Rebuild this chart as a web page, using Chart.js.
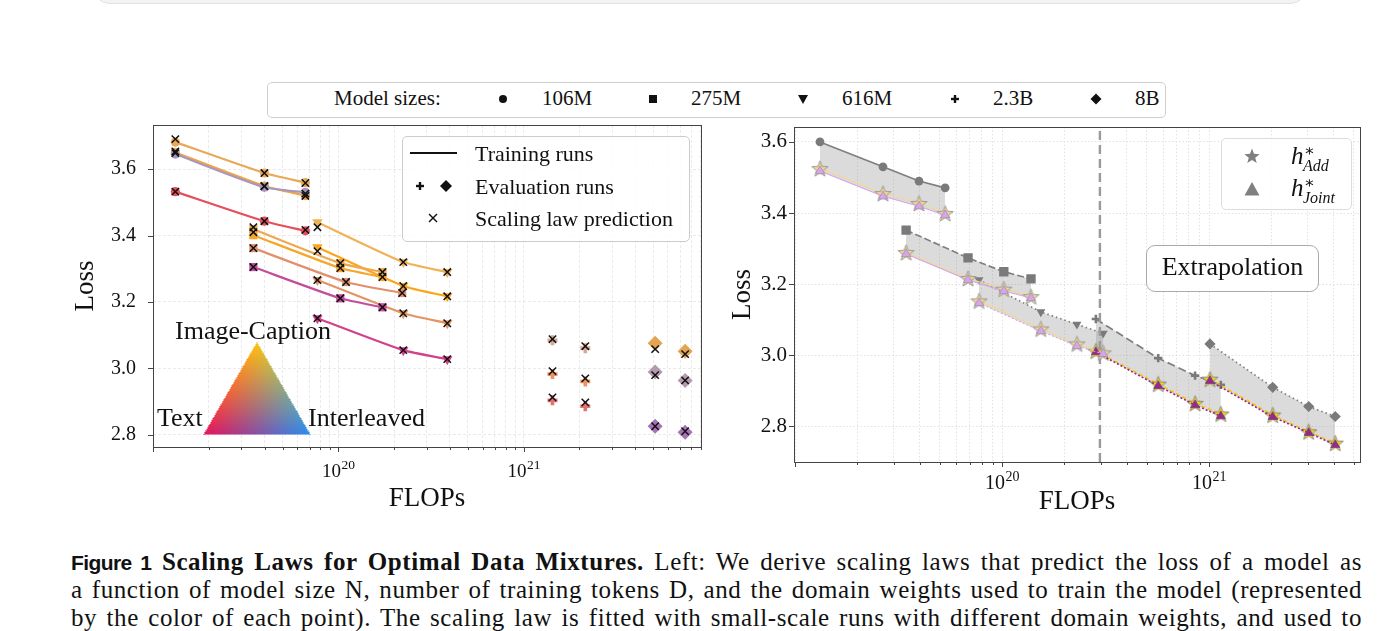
<!DOCTYPE html>
<html>
<head>
<meta charset="utf-8">
<script src="https://cdn.jsdelivr.net/npm/chart.js@4.4.1/dist/chart.umd.min.js"></script>
<style>
html,body{margin:0;padding:0;background:#fff;}
body{width:1400px;height:631px;overflow:hidden;position:relative;font-family:"Liberation Serif","DejaVu Serif",serif;color:#111;}
.a{position:absolute;}
.t{position:absolute;white-space:nowrap;line-height:1;}
.cap{position:absolute;left:71px;font-family:"Liberation Serif","DejaVu Serif",serif;font-size:25px;line-height:28px;white-space:nowrap;letter-spacing:0.6px;}
#w1{position:absolute;left:60px;top:110px;width:650px;height:410px;}
#w2{position:absolute;left:720px;top:110px;width:650px;height:410px;}
.ov{z-index:5;}
</style>
</head>
<body>
<div class="a" style="left:93px;top:-30px;width:1212px;height:32px;background:#f3f3f3;border:1px solid #e2e2e2;border-radius:26px;"></div>

<div id="w1"><canvas id="c1"></canvas></div>
<div id="w2"><canvas id="c2"></canvas></div>

<!-- top legend -->
<div class="a ov" style="left:267px;top:82px;width:897px;height:34px;border:1px solid #cfcfcf;border-radius:5px;background:#fff;"></div>
<div class="t ov" style="left:334px;top:88px;font-size:21px;">Model sizes:</div>
<svg class="a ov" style="left:497px;top:93px" width="12" height="12"><circle cx="6" cy="6" r="4" fill="#111"/></svg>
<div class="t ov" style="left:542px;top:88px;font-size:21px;">106M</div>
<svg class="a ov" style="left:647px;top:93px" width="12" height="12"><rect x="2" y="2" width="8" height="8" fill="#111"/></svg>
<div class="t ov" style="left:691px;top:88px;font-size:21px;">275M</div>
<svg class="a ov" style="left:797px;top:93px" width="12" height="12"><polygon points="1,2 11,2 6,11" fill="#111"/></svg>
<div class="t ov" style="left:842px;top:88px;font-size:21px;">616M</div>
<svg class="a ov" style="left:949px;top:93px" width="12" height="12"><rect x="4.8" y="2" width="2.4" height="8" fill="#111"/><rect x="2" y="4.8" width="8" height="2.4" fill="#111"/></svg>
<div class="t ov" style="left:993px;top:88px;font-size:21px;">2.3B</div>
<svg class="a ov" style="left:1090px;top:93px" width="12" height="12"><polygon points="6,0.5 11.5,6 6,11.5 0.5,6" fill="#111"/></svg>
<div class="t ov" style="left:1135px;top:88px;font-size:21px;">8B</div>

<!-- left legend -->
<div class="a ov" style="left:402px;top:136px;width:286px;height:104px;border:1px solid #cccccc;border-radius:5px;background:rgba(255,255,255,0.85);"></div>
<svg class="a ov" style="left:409px;top:150px" width="50" height="6"><line x1="1" y1="3" x2="48" y2="3" stroke="#111" stroke-width="2"/></svg>
<div class="t ov" style="left:475px;top:143px;font-size:22px;">Training runs</div>
<svg class="a ov" style="left:414px;top:180px" width="12" height="12"><rect x="4.8" y="2" width="2.4" height="8" fill="#111"/><rect x="2" y="4.8" width="8" height="2.4" fill="#111"/></svg>
<svg class="a ov" style="left:439px;top:179px" width="14" height="14"><polygon points="7,1 13,7 7,13 1,7" fill="#111"/></svg>
<div class="t ov" style="left:475px;top:176px;font-size:22px;">Evaluation runs</div>
<svg class="a ov" style="left:427px;top:212px" width="12" height="12"><line x1="2" y1="2" x2="10" y2="10" stroke="#111" stroke-width="1.4"/><line x1="10" y1="2" x2="2" y2="10" stroke="#111" stroke-width="1.4"/></svg>
<div class="t ov" style="left:475px;top:208px;font-size:22px;">Scaling law prediction</div>

<!-- domain-weight triangle -->
<canvas id="tri" class="a ov" style="left:200px;top:338px" width="116" height="100"></canvas>
<div class="t ov" style="left:175px;top:318px;font-size:26px;">Image-Caption</div>
<div class="t ov" style="left:157px;top:405px;font-size:26px;">Text</div>
<div class="t ov" style="left:308px;top:405px;font-size:26px;">Interleaved</div>

<!-- right legend -->
<div class="a ov" style="left:1221px;top:138px;width:129px;height:70px;border:1px solid #dcdcdc;border-radius:5px;background:rgba(255,255,255,0.85);"></div>
<svg class="a ov" style="left:1243px;top:147px" width="18" height="18"><polygon id="lgstar" fill="#808080"/></svg>
<svg class="a ov" style="left:1243px;top:180px" width="18" height="18"><polygon points="9,2 16.5,15.5 1.5,15.5" fill="#808080"/></svg>
<div class="t ov" style="left:1291px;top:143px;font-size:25px;font-style:italic;">h</div>
<div class="t ov" style="left:1304px;top:143px;font-size:16px;">∗</div>
<div class="t ov" style="left:1303px;top:158px;font-size:16px;font-style:italic;">Add</div>
<div class="t ov" style="left:1291px;top:175px;font-size:25px;font-style:italic;">h</div>
<div class="t ov" style="left:1304px;top:175px;font-size:16px;">∗</div>
<div class="t ov" style="left:1303px;top:190px;font-size:16px;font-style:italic;">Joint</div>

<!-- extrapolation label -->
<div class="a ov" style="left:1146px;top:245px;width:171px;height:45px;border:1px solid #aaaaaa;border-radius:9px;background:rgba(255,255,255,0.9);"></div>
<div class="t ov" style="left:1146px;top:254px;width:173px;text-align:center;font-size:26px;">Extrapolation</div>

<!-- caption -->
<div class="cap" style="top:548px"><span style="font-family:'Liberation Sans Narrow','Liberation Sans',sans-serif;font-weight:bold;font-size:21px;letter-spacing:-0.6px;">Figure 1</span> <b>Scaling Laws for Optimal Data Mixtures.</b> Left: We derive scaling laws that predict the loss of a model as</div>
<div class="cap" style="top:576px">a function of model size N, number of training tokens D, and the domain weights used to train the model (represented</div>
<div class="cap" style="top:604px">by the color of each point). The scaling law is fitted with small-scale runs with different domain weights, and used to</div>

<script>
// ---------------- LEFT PANEL DATA ----------------
const FLOPS_L_106M = [1.32e19, 3.99e19, 6.64e19];
const L106_ORANGE  = [3.681, 3.588, 3.559];
const P106_ORANGE  = [3.690, 3.588, 3.558];
const L106_PURPLE  = [3.645, 3.545, 3.530];
const P106_PURPLE  = [3.648, 3.549, 3.526];
const L106_ORANGE2 = [3.650, 3.549, 3.520];
const P106_ORANGE2 = [3.653, 3.548, 3.519];
const L106_RED     = [3.532, 3.443, 3.414];
const P106_RED     = [3.532, 3.443, 3.417];

const FLOPS_L_275M        = [3.48e19, 1.025e20, 1.73e20];
const FLOPS_L_275M_SALMON = [3.48e19, 1.10e20, 2.21e20];
const L275_ORANGE  = [3.419, 3.317, 3.290];
const P275_ORANGE  = [3.425, 3.317, 3.290];
const L275_GOLD    = [3.401, 3.302, 3.275];
const P275_GOLD    = [3.410, 3.302, 3.275];
const L275_SALMON  = [3.362, 3.260, 3.227];
const P275_SALMON  = [3.362, 3.260, 3.227];
const L275_MAGENTA = [3.305, 3.211, 3.184];
const P275_MAGENTA = [3.305, 3.211, 3.184];

const FLOPS_L_616M = [7.71e19, 2.24e20, 3.87e20];
const L616_ORANGE  = [3.440, 3.320, 3.290];
const P616_ORANGE  = [3.425, 3.320, 3.290];
const L616_GOLD    = [3.365, 3.248, 3.217];
const P616_GOLD    = [3.353, 3.248, 3.217];
const L616_SALMON  = [3.266, 3.166, 3.136];
const P616_SALMON  = [3.266, 3.166, 3.136];
const L616_MAGENTA = [3.151, 3.055, 3.028];
const P616_MAGENTA = [3.151, 3.055, 3.028];

const FLOPS_L_23B = [1.43e21, 2.15e21];
const E23B_TAN    = [3.085, 3.061];
const P23B_TAN    = [3.088, 3.067];
const E23B_ORANGE = [2.983, 2.961];
const P23B_ORANGE = [2.992, 2.970];
const E23B_RED    = [2.904, 2.886];
const P23B_RED    = [2.913, 2.898];

const FLOPS_L_8B = [5.12e21, 7.43e21];
const E8B_ORANGE = [3.076, 3.052];
const P8B_ORANGE = [3.058, 3.043];
const E8B_MAUVE  = [2.989, 2.964];
const P8B_MAUVE  = [2.980, 2.964];
const E8B_PURPLE = [2.826, 2.808];
const P8B_PURPLE = [2.826, 2.811];

// ---------------- RIGHT PANEL DATA ----------------
const FLOPS_R_106M = [1.32e19, 2.66e19, 3.97e19, 5.31e19];
const R106_ACTUAL  = [3.600, 3.530, 3.490, 3.471];
const R106_ADD     = [3.525, 3.455, 3.427, 3.399];
const R106_JOINT   = [3.518, 3.447, 3.419, 3.394];
const FLOPS_R_275M = [3.44e19, 6.85e19, 1.02e20, 1.38e20];
const R275_ACTUAL  = [3.352, 3.274, 3.235, 3.215];
const R275_ADD     = [3.289, 3.216, 3.186, 3.165];
const R275_JOINT   = [3.285, 3.212, 3.181, 3.161];
const FLOPS_R_616M = [7.74e19, 1.54e20, 2.30e20, 3.08e20];
const R616_ACTUAL  = [3.212, 3.122, 3.087, 3.062];
const R616_ADD     = [3.153, 3.074, 3.032, 3.007];
const R616_JOINT   = [3.147, 3.068, 3.026, 3.004];
const FLOPS_R_23B  = [2.84e20, 5.68e20, 8.56e20, 1.14e21];
const R23B_ACTUAL  = [3.102, 2.992, 2.943, 2.917];
const R23B_ADD     = [3.012, 2.919, 2.865, 2.835];
const R23B_JOINT   = [3.009, 2.914, 2.860, 2.829];
const FLOPS_R_8B   = [1.01e21, 2.03e21, 3.03e21, 4.07e21];
const R8B_ACTUAL   = [3.032, 2.910, 2.856, 2.828];
const R8B_ADD      = [2.933, 2.832, 2.785, 2.753];
const R8B_JOINT    = [2.928, 2.827, 2.782, 2.748];
const EXTRAP_FLOPS = 2.97e20;

// ---------------- AXES / TICKS ----------------
const Y_TICKS = [2.8, 3.0, 3.2, 3.4, 3.6];
const LABELED_DECADES = [20, 21];
const LEFT_X_RANGE  = [1.0e19, 9.05e21];
const LEFT_Y_RANGE  = [2.7636, 3.7325];
const RIGHT_X_RANGE = [9.886e18, 5.36e21];
const RIGHT_Y_RANGE = [2.700, 3.642];

const SERIF = "'Liberation Serif','DejaVu Serif',serif";

function logTicks(min, max) {
  const out = [];
  for (let e = Math.floor(Math.log10(min)); e <= Math.ceil(Math.log10(max)); e++) {
    for (let m = 1; m <= 9; m++) {
      const v = m * Math.pow(10, e);
      if (v >= min * 0.9999 && v <= max * 1.0001) out.push({value: v, major: m === 1});
    }
  }
  return out;
}
function labeledExp(v) {
  const e = Math.log10(v), r = Math.round(e);
  return (Math.abs(e - r) < 1e-6 && LABELED_DECADES.includes(r)) ? r : null;
}
const pts = (xs, ys) => xs.map((x, i) => ({x, y: ys[i]}));

const framePlugin = {
  id: 'frame',
  afterDraw(chart, _a, o) {
    const {ctx, chartArea: a, scales: {x, y}} = chart;
    ctx.save();
    ctx.strokeStyle = o.color; ctx.lineWidth = 1;
    ctx.strokeRect(Math.round(a.left) + 0.5, Math.round(a.top) + 0.5, Math.round(a.right - a.left), Math.round(a.bottom - a.top));
    ctx.beginPath();
    x.ticks.forEach(t => {
      const p = Math.round(x.getPixelForValue(t.value)) + 0.5;
      if (p < a.left - 1 || p > a.right + 1) return;
      const L = t.major ? o.major : o.minor;
      ctx.moveTo(p, a.bottom); ctx.lineTo(p, a.bottom + L);
    });
    y.ticks.forEach(t => {
      const p = Math.round(y.getPixelForValue(t.value)) + 0.5;
      ctx.moveTo(a.left, p); ctx.lineTo(a.left - o.major, p);
    });
    ctx.stroke();
    // decade tick labels: "10" with a raised exponent
    ctx.fillStyle = '#111';
    ctx.textBaseline = 'alphabetic'; ctx.textAlign = 'left';
    x.ticks.forEach(t => {
      const e = labeledExp(t.value);
      if (e === null) return;
      const px = x.getPixelForValue(t.value);
      ctx.font = o.size + 'px ' + SERIF;
      const w1 = ctx.measureText('10').width;
      ctx.font = o.sup + 'px ' + SERIF;
      const w2 = ctx.measureText(String(e)).width;
      const sx = px - (w1 + w2) / 2, base = a.bottom + o.base;
      ctx.font = o.size + 'px ' + SERIF;
      ctx.fillText('10', sx, base);
      ctx.font = o.sup + 'px ' + SERIF;
      ctx.fillText(String(e), sx + w1 + 0.5, base - o.raise);
    });
    ctx.restore();
  }
};

function axes(xr, yr, yw, xh, ySize, yPad, titleTopPad, titleBotPad, gridColor, dash) {
  return {
    x: {
      type: 'logarithmic', min: xr[0], max: xr[1],
      afterBuildTicks: s => { s.ticks = logTicks(xr[0], xr[1]); },
      afterFit: s => { s.height = xh; s.paddingLeft = 0; s.paddingRight = 0; },
      grid: {color: gridColor, lineWidth: 0.8, drawTicks: false},
      border: {display: false, dash: dash},
      ticks: {autoSkip: false, maxRotation: 0, padding: 0, callback: () => ''},
      title: {display: true, text: 'FLOPs', color: '#111', font: {family: SERIF, size: 27}, padding: {top: 0, bottom: titleBotPad}}
    },
    y: {
      type: 'linear', min: yr[0], max: yr[1],
      afterBuildTicks: s => { s.ticks = Y_TICKS.map(v => ({value: v})); },
      afterFit: s => { s.width = yw; s.paddingTop = 0; s.paddingBottom = 0; },
      grid: {color: gridColor, lineWidth: 0.8, drawTicks: false},
      border: {display: false, dash: dash},
      ticks: {padding: yPad, color: '#111', font: {family: SERIF, size: ySize}, callback: v => v.toFixed(1)},
      title: {display: true, text: 'Loss', color: '#111', font: {family: SERIF, size: 27}, padding: {top: titleTopPad, bottom: 0}}
    }
  };
}

// ---------------- LEFT CHART ----------------
const leftRuns = [
  [FLOPS_L_106M, L106_ORANGE,  P106_ORANGE,  '#eaa85a', 'circle'],
  [FLOPS_L_106M, L106_PURPLE,  P106_PURPLE,  '#a996bd', 'circle'],
  [FLOPS_L_106M, L106_ORANGE2, P106_ORANGE2, '#f0a640', 'circle'],
  [FLOPS_L_106M, L106_RED,     P106_RED,     '#e34f5c', 'circle'],
  [FLOPS_L_275M, L275_ORANGE,  P275_ORANGE,  '#eea850', 'rect'],
  [FLOPS_L_275M, L275_GOLD,    P275_GOLD,    '#f6a72a', 'rect'],
  [FLOPS_L_275M_SALMON, L275_SALMON, P275_SALMON, '#e0906d', 'rect'],
  [FLOPS_L_275M, L275_MAGENTA, P275_MAGENTA, '#c44d9b', 'rect'],
  [FLOPS_L_616M, L616_ORANGE,  P616_ORANGE,  '#efb257', 'triangle'],
  [FLOPS_L_616M, L616_GOLD,    P616_GOLD,    '#fba51a', 'triangle'],
  [FLOPS_L_616M, L616_SALMON,  P616_SALMON,  '#e49463', 'triangle'],
  [FLOPS_L_616M, L616_MAGENTA, P616_MAGENTA, '#d2418a', 'triangle']
];
const leftEvals = [
  [FLOPS_L_23B, E23B_TAN,    P23B_TAN,    '#d4a894', 'cross'],
  [FLOPS_L_23B, E23B_ORANGE, P23B_ORANGE, '#ec9264', 'cross'],
  [FLOPS_L_23B, E23B_RED,    P23B_RED,    '#e3716f', 'cross'],
  [FLOPS_L_8B,  E8B_ORANGE,  P8B_ORANGE,  '#e3a553', 'rectRot'],
  [FLOPS_L_8B,  E8B_MAUVE,   P8B_MAUVE,   '#b39aae', 'rectRot'],
  [FLOPS_L_8B,  E8B_PURPLE,  P8B_PURPLE,  '#a673b6', 'rectRot']
];
const leftDatasets = [];
leftRuns.forEach(([xs, ys, ps, col, st]) => {
  leftDatasets.push({
    data: pts(xs, ys), borderColor: col, borderWidth: 2.2, tension: 0.2, fill: false,
    pointStyle: st, pointRotation: st === 'triangle' ? 180 : 0,
    pointRadius: st === 'circle' ? 4.6 : (st === 'rect' ? 5.8 : 6),
    pointBackgroundColor: col, pointBorderColor: col, pointBorderWidth: 0, order: 2
  });
  leftDatasets.push({
    data: pts(xs, ps), showLine: false, pointStyle: 'crossRot', pointRadius: 5.2,
    pointBorderColor: '#111', pointBorderWidth: 1.5, order: 1
  });
});
leftEvals.forEach(([xs, ys, ps, col, st]) => {
  leftDatasets.push({
    data: pts(xs, ys), showLine: false, pointStyle: st,
    pointRadius: st === 'cross' ? 5 : 7.5, pointBorderWidth: st === 'cross' ? 3.6 : 0,
    pointBackgroundColor: col, pointBorderColor: col, order: 2
  });
  leftDatasets.push({
    data: pts(xs, ps), showLine: false, pointStyle: 'crossRot', pointRadius: 5.2,
    pointBorderColor: '#111', pointBorderWidth: 1.5, order: 1
  });
});

new Chart(document.getElementById('c1'), {
  type: 'line',
  data: {datasets: leftDatasets},
  options: {
    responsive: true, maintainAspectRatio: false, animation: false, events: [],
    layout: {padding: {top: 15, right: 9, left: 0, bottom: 0}},
    plugins: {legend: {display: false}, tooltip: {enabled: false},
      frame: {color: '#444', major: 5, minor: 3, size: 19, sup: 13.5, base: 30, raise: 8}},
    scales: axes(LEFT_X_RANGE, LEFT_Y_RANGE, 93, 73, 20, 17, 9.4, 4.4, '#e4e4e4', [3, 2])
  },
  plugins: [framePlugin]
});

// ---------------- RIGHT CHART ----------------
function starCanvas(r, fill, stroke) {
  const s = Math.ceil(2 * r + 4), c = document.createElement('canvas');
  c.width = c.height = s;
  const g = c.getContext('2d');
  g.translate(s / 2, s / 2 + r * 0.08);
  g.beginPath();
  for (let i = 0; i < 10; i++) {
    const rad = i % 2 ? r * 0.42 : r, ang = -Math.PI / 2 + i * Math.PI / 5;
    g.lineTo(rad * Math.cos(ang), rad * Math.sin(ang));
  }
  g.closePath(); g.fillStyle = fill; g.fill();
  g.strokeStyle = stroke; g.lineWidth = 1; g.stroke();
  return c;
}
const STAR_LIGHT = starCanvas(8.5, 'rgba(242,214,130,0.95)', '#9a9a9a');
const STAR_BRIGHT = starCanvas(8.5, '#f6d600', '#8a8a8a');

const rightGroups = [
  [FLOPS_R_106M, R106_ACTUAL, R106_ADD, R106_JOINT, 'circle',   4.4, 0,   [],     'light'],
  [FLOPS_R_275M, R275_ACTUAL, R275_ADD, R275_JOINT, 'rect',     5.2, 2,   [7, 3], 'light'],
  [FLOPS_R_616M, R616_ACTUAL, R616_ADD, R616_JOINT, 'triangle', 5.2, 0,   [1.5, 3], 'light'],
  [FLOPS_R_23B,  R23B_ACTUAL, R23B_ADD, R23B_JOINT, 'cross',    4.2, 2.6, [8, 4], 'bright'],
  [FLOPS_R_8B,   R8B_ACTUAL,  R8B_ADD,  R8B_JOINT,  'rectRot',  5.6, 0,   [1.5, 3], 'bright']
];
const rightDatasets = [];
rightGroups.forEach(([xs, act, add, joint, st, rad, bw, dash, kind]) => {
  const bright = kind === 'bright';
  rightDatasets.push({
    data: pts(xs, act), borderColor: '#7f7f7f', borderWidth: 1.7, borderDash: dash,
    pointStyle: st, pointRotation: st === 'triangle' ? 180 : 0, pointRadius: rad, pointBorderWidth: bw,
    pointBackgroundColor: '#7a7a7a', pointBorderColor: '#7a7a7a',
    fill: '+2', backgroundColor: 'rgba(135,135,135,0.3)', order: 5
  });
  rightDatasets.push({
    data: pts(xs, add), borderColor: bright ? '#f2c800' : '#f2d894', borderWidth: bright ? 1.6 : 1.2,
    borderDash: bright ? [4, 3] : [], fill: false,
    pointStyle: bright ? STAR_BRIGHT : STAR_LIGHT, order: 4
  });
  rightDatasets.push({
    data: pts(xs, joint), borderColor: bright ? '#9c2290' : '#d4a4ee', borderWidth: bright ? 1.6 : 1.1,
    borderDash: bright ? [2, 2] : (st === 'triangle' ? [2, 2] : []), fill: false,
    pointStyle: 'triangle', pointRadius: 5.2, pointBorderWidth: 0.8,
    pointBackgroundColor: bright ? '#9e2590' : '#d6a6ea', pointBorderColor: bright ? '#6d4a70' : '#a68fb0', order: 3
  });
});
rightDatasets.push({
  data: [{x: EXTRAP_FLOPS, y: RIGHT_Y_RANGE[0]}, {x: EXTRAP_FLOPS, y: RIGHT_Y_RANGE[1]}],
  borderColor: '#9a9a9a', borderWidth: 2.4, borderDash: [9, 5], pointRadius: 0, fill: false, order: 4.5
});

new Chart(document.getElementById('c2'), {
  type: 'line',
  data: {datasets: rightDatasets},
  options: {
    responsive: true, maintainAspectRatio: false, animation: false, events: [],
    layout: {padding: {top: 17, right: 10, left: 0, bottom: 0}},
    plugins: {legend: {display: false}, tooltip: {enabled: false},
      frame: {color: '#444', major: 5, minor: 3, size: 20, sup: 14, base: 27, raise: 8}},
    scales: axes(RIGHT_X_RANGE, RIGHT_Y_RANGE, 74, 58, 21, 7, 6.4, 1.4, '#dadada', [1.5, 2])
  },
  plugins: [framePlugin]
});

// ---------------- DOMAIN-WEIGHT TRIANGLE (colour key) ----------------
(function () {
  const cv = document.getElementById('tri'), g = cv.getContext('2d');
  const W = cv.width, H = cv.height, img = g.createImageData(W, H);
  const A = [4.5, 96], B = [109.5, 96], C = [57, 5];
  const cA = [227, 22, 91], cB = [40, 140, 240], cC = [252, 192, 20];
  const det = (B[1] - C[1]) * (A[0] - C[0]) + (C[0] - B[0]) * (A[1] - C[1]);
  for (let y = 0; y < H; y++) for (let x = 0; x < W; x++) {
    const px = x + 0.5, py = y + 0.5;
    const l1 = ((B[1] - C[1]) * (px - C[0]) + (C[0] - B[0]) * (py - C[1])) / det;
    const l2 = ((C[1] - A[1]) * (px - C[0]) + (A[0] - C[0]) * (py - C[1])) / det;
    const l3 = 1 - l1 - l2;
    const m = Math.min(l1, l2, l3);
    if (m < -0.01) continue;
    const i = (y * W + x) * 4;
    for (let k = 0; k < 3; k++) img.data[i + k] = Math.round(l1 * cA[k] + l2 * cB[k] + l3 * cC[k]);
    img.data[i + 3] = m < 0 ? 140 : 255;
  }
  g.putImageData(img, 0, 0);
})();

// legend star shape
(function () {
  const p = [];
  for (let i = 0; i < 10; i++) {
    const r = i % 2 ? 3.4 : 8, a = -Math.PI / 2 + i * Math.PI / 5;
    p.push((9 + r * Math.cos(a)).toFixed(2) + ',' + (9.6 + r * Math.sin(a)).toFixed(2));
  }
  document.getElementById('lgstar').setAttribute('points', p.join(' '));
})();

// caption lines: stretch word spacing so each line spans the text block width
(function () {
  const TARGET = 1291;
  document.querySelectorAll('.cap').forEach(el => {
    let w = el.getBoundingClientRect().width;
    const n = (el.textContent.match(/ /g) || []).length;
    const chars = el.textContent.length;
    if (w > TARGET - 2 * n) {
      const ls = 0.6 - (w - TARGET + 3 * n) / chars;
      el.style.letterSpacing = ls.toFixed(3) + 'px';
      w = el.getBoundingClientRect().width;
    }
    el.style.wordSpacing = ((TARGET - w) / n).toFixed(3) + 'px';
  });
})();
</script>
</body>
</html>
